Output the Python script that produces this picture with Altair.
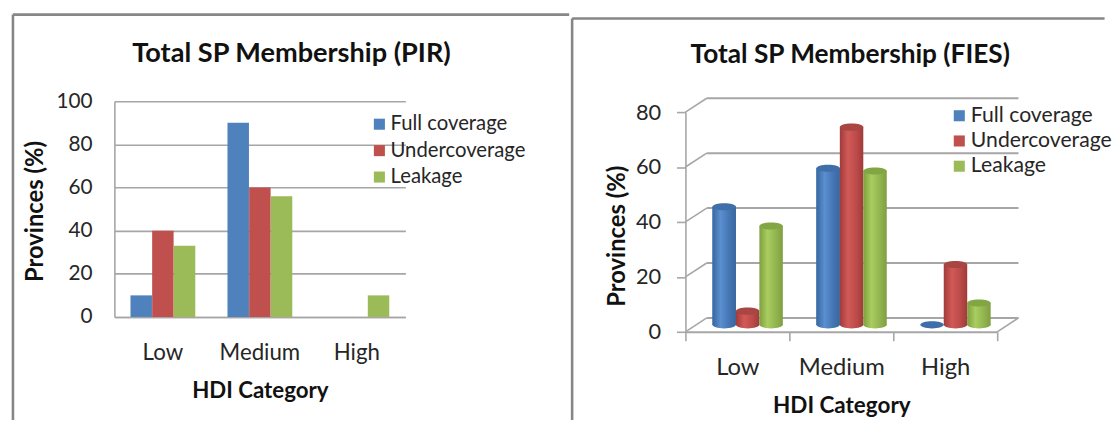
import altair as alt
import pandas as pd

categories = ["Low", "Medium", "High"]
series = ["Full coverage", "Undercoverage", "Leakage"]
colors = ["#4f81bd", "#c0504d", "#9bbb59"]

pir_full = [10, 90, 0]
pir_under = [40, 60, 0]
pir_leak = [33, 56, 10]

fies_full = [43, 57, 0]
fies_under = [5, 72, 22]
fies_leak = [36, 56, 8]

pir_ticks = [0, 20, 40, 60, 80, 100]
fies_ticks = [0, 20, 40, 60, 80]

FONT = "Lato"
GRID = "#a6a6a6"
FRAME = "#868686"
INK = "#262626"


def long(a, b, c):
    rows = []
    for s, vals in zip(series, (a, b, c)):
        for k, v in zip(categories, vals):
            rows.append({"cat": k, "series": s, "value": v})
    return pd.DataFrame(rows)


color_scale = alt.Scale(domain=series, range=colors)


def legend(x, y, size, pad):
    return alt.Legend(title=None, orient="none", legendX=x, legendY=y, symbolType="square",
                      symbolSize=125, symbolStrokeWidth=0, symbolOpacity=1, labelFont=FONT,
                      labelFontSize=size, labelColor=INK, rowPadding=pad, labelOffset=1,
                      padding=0, labelLimit=300)


def frame(left, top, right, bottom, width=2.6):
    d = pd.DataFrame({"a": [0]})
    top_line = alt.Chart(d).mark_rule(color=FRAME, strokeWidth=width).encode(
        x=alt.value(left), x2=alt.value(right), y=alt.value(top))
    left_line = alt.Chart(d).mark_rule(color=FRAME, strokeWidth=width).encode(
        x=alt.value(left), y=alt.value(top), y2=alt.value(bottom))
    return top_line + left_line


# ---------- left panel ----------
W1, H1 = 294, 218
pir = long(pir_full, pir_under, pir_leak)
pir_bars = alt.Chart(pir).mark_bar(size=21.7).encode(
    x=alt.X("cat:N", sort=categories, scale=alt.Scale(paddingInner=0.33, paddingOuter=0.165),
            axis=alt.Axis(title="HDI  Category", labelAngle=0, ticks=False, domainColor=GRID,
                          domainWidth=1.6, labelFont=FONT, labelFontSize=22.5, labelColor=INK,
                          labelPadding=25, titleFont=FONT, titleFontSize=22.5, titleFontWeight="bold",
                          titleColor="#111111", titlePadding=16)),
    xOffset=alt.XOffset("series:N", sort=series, scale=alt.Scale(domain=series)),
    y=alt.Y("value:Q", scale=alt.Scale(domain=[0, 100]),
            axis=alt.Axis(title="Provinces (%)", values=pir_ticks, ticks=False, domainColor=GRID,
                          domainWidth=1.6, grid=True, gridColor=GRID, gridWidth=1.6, labelFont=FONT,
                          labelFontSize=21, labelColor=INK, labelPadding=22.5, titleFont=FONT,
                          titleFontSize=24, titleFontWeight="bold", titleColor="#111111",
                          titlePadding=8.5, titleY=111)),
    color=alt.Color("series:N", scale=color_scale, sort=series, legend=legend(257.5, 13, 20.5, 5.7)),
)
left = alt.layer(frame(-102.5, -87.5, 459.5, 322), pir_bars).properties(
    width=W1, height=H1,
    title=alt.TitleParams("Total SP Membership (PIR)", font=FONT, fontSize=27.4, fontWeight="bold",
                          color="#111111", anchor="middle", dx=32, offset=-55),
)


# ---------- right panel ----------
W2, H2 = 315, 233
TOP = 11
DX, DY = 21.5, 14
UNIT = DY * 80 / (H2 - TOP)
BAR = 23.7
fies = long(fies_full, fies_under, fies_leak)
fies["top"] = fies["value"] + UNIT / 2
fies["floor"] = UNIT / 2
grid = pd.DataFrame({"v": fies_ticks})
grid["v2"] = [v + UNIT for v in fies_ticks]

y_scale = alt.Scale(domain=[0, 80], range=[H2, TOP])
x_enc = alt.X("cat:N", sort=categories, scale=alt.Scale(padding=0),
              axis=alt.Axis(title="HDI Category", labelAngle=0, tickBand="extent", tickColor=GRID,
                            tickWidth=1.6, tickSize=9, domainColor=GRID, domainWidth=2, labelFont=FONT,
                            labelFontSize=24, labelColor=INK, labelPadding=15, titleFont=FONT,
                            titleFontSize=22.7, titleFontWeight="bold", titleColor="#111111",
                            titlePadding=16))
y_enc = alt.Y("top:Q", stack=None, scale=y_scale,
              axis=alt.Axis(title="Provinces (%)", values=fies_ticks, tickColor=GRID, tickWidth=1.6,
                            tickSize=9, domainColor=GRID, domainWidth=1.6, grid=False, labelFont=FONT,
                            labelFontSize=22, labelColor=INK, labelPadding=16, titleFont=FONT,
                            titleFontSize=24, titleFontWeight="bold", titleColor="#111111",
                            titlePadding=6, titleY=136))

back = alt.Chart(grid).mark_rule(color=GRID, strokeWidth=2).encode(
    x=alt.value(DX), x2=alt.value(W2 + DX), y=alt.Y("v2:Q", scale=y_scale))
diag = alt.Chart(grid).mark_rule(color=GRID, strokeWidth=1.6).encode(
    x=alt.value(0), x2=alt.value(DX), y=alt.Y("v:Q", scale=y_scale), y2=alt.Y2("v2:Q"))
floor_edge = alt.Chart(grid[grid.v == 0]).mark_rule(color=GRID, strokeWidth=1.6).encode(
    x=alt.value(W2), x2=alt.value(W2 + DX), y=alt.Y("v:Q", scale=y_scale), y2=alt.Y2("v2:Q"))

shades = {
    "Full coverage": ("#38679f", "#5a8fd0", "#4676b4", "#3f6fa8"),
    "Undercoverage": ("#a03b3a", "#d05a58", "#bd4b49", "#a94543"),
    "Leakage": ("#7f9f40", "#a9cd5f", "#92b550", "#83a645"),
}
ELLIPSE = "M-1,0A1,0.3,0,1,0,1,0A1,0.3,0,1,0,-1,0Z"

# one flat layer carries the colour scale and its legend; the rounded bars sit on top of it
legend_layer = alt.Chart(fies).transform_filter(alt.datum.series == series[0]).mark_bar(
    size=BAR, xOffset=DX / 2 - BAR - 0.4).encode(
    x=x_enc, y=y_enc, y2=alt.Y2("floor:Q"),
    color=alt.Color("series:N", scale=color_scale, sort=series, legend=legend(266, 4, 21.4, 2.5)))

layers = [back, diag, floor_edge, legend_layer]
for i, s in enumerate(series):
    edge, light, mid, cap = shades[s]
    grad = alt.LinearGradient(gradient="linear", x1=0, y1=0, x2=1, y2=0, stops=[
        alt.GradientStop(offset=0, color=edge), alt.GradientStop(offset=0.35, color=light),
        alt.GradientStop(offset=0.7, color=mid), alt.GradientStop(offset=1, color=edge)])
    part = fies[fies.series == s]
    off = DX / 2 + (i - 1) * BAR - 0.4
    round_bar = alt.Chart(part).mark_bar(size=BAR, xOffset=off, fill=grad).encode(
        x=x_enc, y=y_enc, y2=alt.Y2("floor:Q"))
    base = alt.Chart(part[part.value > 0]).mark_point(
        shape=ELLIPSE, size=BAR ** 2, filled=True, fill=grad, opacity=1, strokeWidth=0,
        xOffset=off).encode(x=x_enc, y=alt.Y("floor:Q", scale=y_scale))
    top = alt.Chart(part).mark_point(
        shape=ELLIPSE, size=BAR ** 2, filled=True, fill=cap, opacity=1, strokeWidth=0,
        xOffset=off).encode(x=x_enc, y=y_enc)
    layers += [base, round_bar, top]

right = alt.layer(frame(-114.5, -83.5, 423.5, 322), *layers).properties(
    width=W2, height=H2,
    title=alt.TitleParams("Total SP Membership (FIES)", font=FONT, fontSize=26.5, fontWeight="bold",
                          color="#111111", anchor="middle", dx=9, offset=-51.5),
)

chart = (
    alt.hconcat(left, right, spacing=0)
    .resolve_scale(color="independent")
    .resolve_legend(color="independent")
    .properties(padding={"left": 3.5, "top": 3, "right": 0, "bottom": 0}, background="white")
    .configure_view(stroke=None)
)

chart.save("out.html", embed_options={"renderer": "svg", "actions": False})
